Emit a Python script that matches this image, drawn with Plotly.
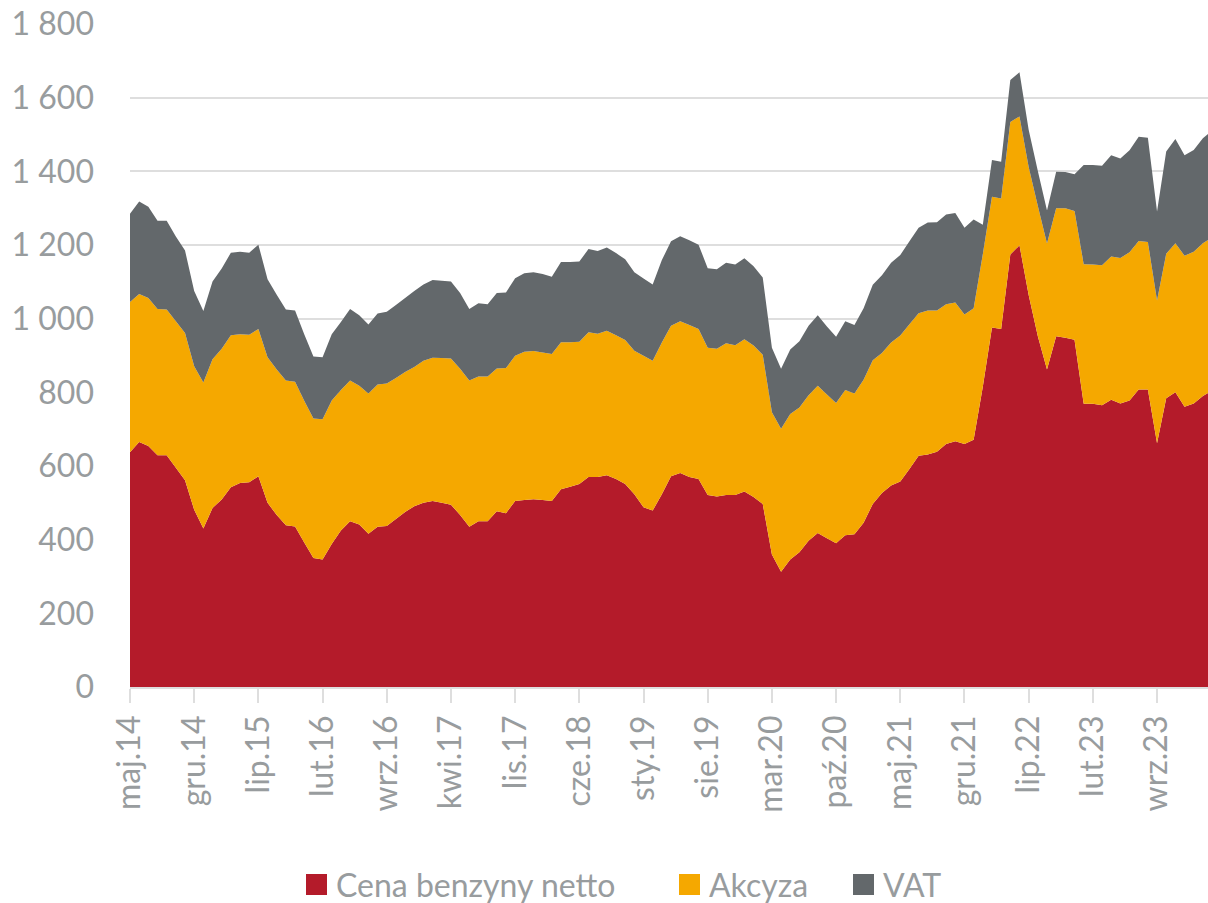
import plotly.graph_objects as go

# Polish month abbreviations used on the category axis
MONTHS_PL = ["sty", "lut", "mar", "kwi", "maj", "cze",
             "lip", "sie", "wrz", "paź", "lis", "gru"]

# monthly categories: maj.14 ... mar.24
months = []
_y, _m = 2014, 4
for _ in range(119):
    months.append(f"{MONTHS_PL[_m]}.{_y % 100:02d}")
    _m += 1
    if _m == 12:
        _m, _y = 0, _y + 1

# net petrol price
cena_netto = [
    637, 665, 654, 629, 629, 595, 561, 481, 430, 486,
    509, 542, 554, 556, 572, 500, 467, 439, 436, 392,
    350, 346, 388, 425, 450, 441, 416, 435, 437, 456,
    475, 491, 500, 505, 500, 495, 467, 435, 450, 450,
    477, 472, 505, 508, 510, 508, 505, 537, 544, 551,
    570, 570, 575, 565, 551, 523, 488, 479, 523, 572,
    581, 570, 565, 521, 517, 521, 521, 531, 516, 497,
    360, 313, 346, 366, 397, 418, 404, 390, 412, 415,
    446, 497, 527, 547, 558, 592, 628, 631, 639, 660,
    667, 660, 671, 815, 976, 972, 1174, 1199, 1064, 952,
    862, 952, 948, 943, 769, 769, 765, 780, 770, 778,
    808, 808, 662, 784, 800, 761, 770, 790, 805,
]

# excise duty
akcyza = [
    408, 402, 402, 397, 396, 398, 400, 390, 397, 404,
    409, 413, 404, 400, 400, 395, 395, 393, 393, 385,
    379, 381, 390, 381, 382, 377, 381, 386, 387, 383,
    380, 378, 386, 389, 393, 397, 397, 397, 393, 393,
    388, 394, 394, 402, 402, 400, 399, 399, 392, 386,
    393, 389, 392, 390, 391, 390, 411, 407, 412, 409,
    412, 413, 407, 400, 401, 412, 407, 413, 411, 405,
    386, 388, 395, 393, 395, 400, 390, 381, 394, 382,
    388, 390, 380, 388, 396, 393, 387, 391, 383, 379,
    377, 351, 357, 360, 355, 354, 360, 350, 348, 354,
    342, 348, 352, 349, 379, 378, 380, 389, 395, 402,
    403, 400, 387, 392, 405, 410, 412, 415, 415,
]

# VAT
vat = [
    240, 251, 248, 240, 241, 230, 224, 204, 194, 211,
    218, 224, 224, 223, 229, 212, 203, 193, 193, 181,
    168, 168, 180, 185, 194, 191, 187, 193, 195, 198,
    201, 206, 207, 211, 210, 209, 206, 194, 199, 196,
    205, 205, 211, 213, 214, 213, 210, 218, 218, 218,
    226, 225, 226, 223, 219, 213, 210, 207, 224, 229,
    231, 230, 229, 216, 216, 219, 219, 220, 215, 210,
    175, 163, 175, 180, 189, 191, 185, 180, 187, 186,
    194, 205, 211, 217, 219, 225, 232, 239, 240, 244,
    243, 236, 241, 80, 100, 100, 114, 120, 101, 95,
    90, 99, 98, 100, 269, 270, 270, 275, 270, 277,
    283, 283, 242, 278, 283, 273, 276, 285, 290,
]

series = [
    ("Cena benzyny netto", cena_netto, "#B41B2A"),
    ("Akcyza", akcyza, "#F5A800"),
    ("VAT", vat, "#63686B"),
]

TEXT = "#989C9E"
GRID = "#DEDEDE"
FONT = "Lato"

x = list(range(len(months)))
tick_idx = list(range(0, len(months), 7))

fig = go.Figure()
for name, vals, color in series:
    fig.add_trace(go.Scatter(
        x=x, y=vals, name=name, mode="none",
        stackgroup="one", fillcolor=color,
        showlegend=False, hoverinfo="x+y+name",
    ))

# plot area geometry (pixels)
W, H = 1208, 903
L, R, T, B = 130, 0, 24, 216
pw, ph = W - L - R, H - T - B

# legend drawn as squares + labels below the plot
legend_items = [
    ("Cena benzyny netto", "#B41B2A", 306),
    ("Akcyza", "#F5A800", 679),
    ("VAT", "#63686B", 853),
]
shapes, annotations = [], []
for label, color, px in legend_items:
    x0 = (px - L) / pw
    x1 = (px + 21 - L) / pw
    y0 = (H - B - 895) / ph
    y1 = (H - B - 874) / ph
    shapes.append(dict(type="rect", xref="paper", yref="paper",
                       x0=x0, x1=x1, y0=y0, y1=y1,
                       fillcolor=color, line=dict(width=0), layer="above"))
    annotations.append(dict(
        xref="paper", yref="paper",
        x=(px + 28 - L) / pw, y=(H - B - 884) / ph,
        text=label, showarrow=False, xanchor="left", yanchor="middle",
        font=dict(family=FONT, size=32, color=TEXT),
    ))

fig.update_layout(
    width=W, height=H,
    margin=dict(l=L, r=R, t=T, b=B, pad=0),
    paper_bgcolor="white", plot_bgcolor="white",
    separators=", ",
    showlegend=False,
    shapes=shapes, annotations=annotations,
    font=dict(family=FONT, color=TEXT),
    xaxis=dict(
        range=[0, (pw) / 9.17],
        tickmode="array", tickvals=tick_idx,
        ticktext=[months[i] for i in tick_idx],
        tickangle=-90,
        tickfont=dict(family=FONT, size=32, color=TEXT),
        ticks="outside", ticklen=14, tickwidth=1.5, tickcolor=GRID,
        showline=True, linecolor=GRID, linewidth=1.5,
        showgrid=False, zeroline=False, fixedrange=True,
    ),
    yaxis=dict(
        range=[0, 1800], dtick=200, tickformat=",d",
        tickfont=dict(family=FONT, size=32, color=TEXT),
        showgrid=True, gridcolor=GRID, gridwidth=1.5,
        zeroline=False, showline=False, ticks="",
        ticklabelstandoff=35, fixedrange=True,
    ),
)

fig.write_html("out.html")
